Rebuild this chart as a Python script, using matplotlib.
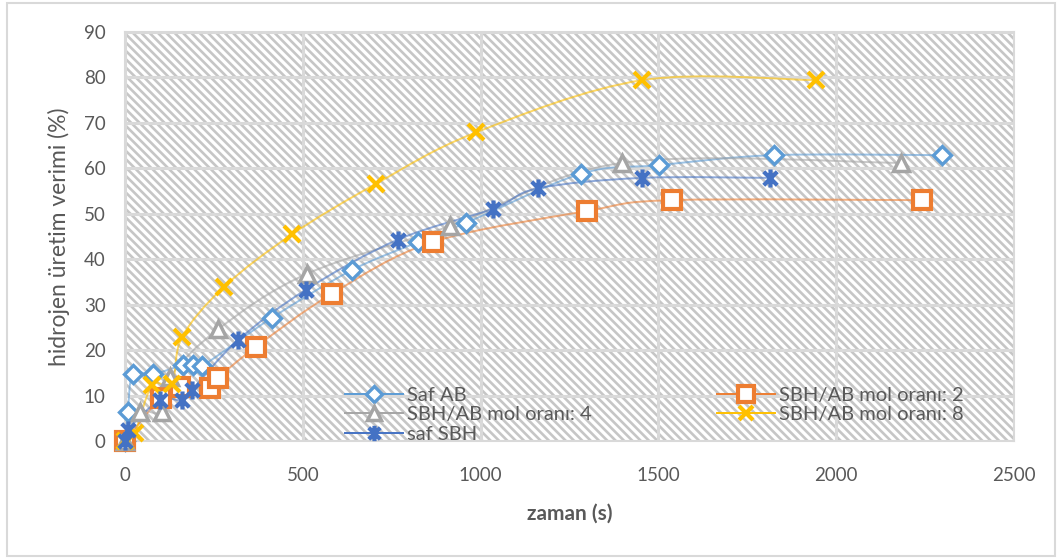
import numpy as np
import matplotlib
matplotlib.use("Agg")
import matplotlib.pyplot as plt
from matplotlib.path import Path
from matplotlib.patches import PathPatch, Rectangle
from matplotlib.lines import Line2D

plt.rcParams['font.family'] = ['Lato', 'DejaVu Sans']
plt.rcParams['hatch.linewidth'] = 1.9
plt.rcParams['hatch.color'] = '#C6C6C6'

# data (time in s, yield in %)
saf_ab_t = [0, 8, 22, 79, 163, 191, 217, 413, 638, 825, 959, 1282, 1502, 1825, 2297]
saf_ab_y = [0, 6.4, 14.7, 14.7, 16.7, 16.7, 16.5, 27.1, 37.6, 43.8, 48.0, 58.8, 60.7, 62.9, 62.9]

sbh2_t = [0, 100, 155, 240, 262, 368, 582, 866, 1299, 1538, 2241]
sbh2_y = [0, 9.5, 11.9, 11.7, 13.9, 20.7, 32.4, 43.8, 50.6, 53.0, 53.0]

sbh4_t = [0, 42, 104, 127, 262, 512, 914, 1398, 2182]
sbh4_y = [0, 6.4, 6.4, 14.1, 24.6, 36.8, 47.3, 61.2, 61.2]

sbh8_t = [0, 28, 76, 132, 160, 278, 470, 706, 987, 1454, 1943]
sbh8_y = [0, 1.8, 12.3, 12.5, 22.8, 33.9, 45.5, 56.6, 67.9, 79.4, 79.4]

saf_sbh_t = [0, 8, 98, 160, 188, 318, 509, 767, 1035, 1161, 1454, 1814]
saf_sbh_y = [0, 2.5, 9.0, 9.0, 11.2, 22.2, 33.3, 44.3, 51.1, 55.6, 57.9, 57.9]

labels = ['Saf AB', 'SBH/AB mol oranı: 2', 'SBH/AB mol oranı: 4',
          'SBH/AB mol oranı: 8', 'saf SBH']
colors = ['#5B9BD5', '#ED7D31', '#A5A5A5', '#FFC000', '#4472C4']

# excel style "star" marker: X plus a vertical bar
star = Path([(0, -1), (0, 1), (-0.75, -0.75), (0.75, 0.75), (-0.75, 0.75), (0.75, -0.75)],
            [Path.MOVETO, Path.LINETO] * 3)


def smooth_path(x, y):
    # catmull-rom -> cubic bezier, like excel's smoothed line
    p = np.column_stack([x, y]).astype(float)
    verts = [p[0]]
    codes = [Path.MOVETO]
    n = len(p)
    for i in range(n - 1):
        p0 = p[i - 1] if i > 0 else p[i]
        p3 = p[i + 2] if i + 2 < n else p[i + 1]
        c1 = p[i] + (p[i + 1] - p0) / 6
        c2 = p[i + 1] - (p3 - p[i]) / 6
        verts += [c1, c2, p[i + 1]]
        codes += [Path.CURVE4] * 3
    return Path(verts, codes)


fig = plt.figure(figsize=(10.6, 5.58), dpi=100)
fig.patches.append(Rectangle((7 / 1060, 2 / 558), 1048 / 1060, 553 / 558,
                             transform=fig.transFigure, facecolor='white',
                             edgecolor='#D9D9D9', lw=1.5, zorder=-5))
ax = fig.add_axes([125 / 1060, (558 - 441) / 558, 889 / 1060, 409 / 558])
ax.set_facecolor('none')
ax.add_patch(Rectangle((0, 0), 1, 1, transform=ax.transAxes, facecolor='white',
                       edgecolor='#C6C6C6', hatch='\\\\\\\\', lw=0, zorder=0))

ax.set_xlim(0, 2500)
ax.set_ylim(0, 90)
ax.set_xticks(range(0, 2501, 500))
ax.set_yticks(range(0, 91, 10))
ax.grid(True, color='#D9D9D9', lw=2.2, zorder=1)
ax.set_axisbelow(False)
for s in ax.spines.values():
    s.set_color('#D9D9D9')
    s.set_linewidth(1.5)
ax.tick_params(length=0, labelsize=13.5, labelcolor='#595959')
ax.tick_params(axis='x', pad=19)
ax.tick_params(axis='y', pad=14)

series = [
    (saf_ab_t, saf_ab_y, dict(marker='D', ms=9, mew=2.4)),
    (sbh2_t, sbh2_y, dict(marker='s', ms=13, mew=3)),
    (sbh4_t, sbh4_y, dict(marker='^', ms=12, mew=2.5)),
    (sbh8_t, sbh8_y, dict(marker='x', ms=12, mew=3)),
    (saf_sbh_t, saf_sbh_y, dict(marker=star, ms=13, mew=3)),
]

handles = []
for k, (t, y, mk) in enumerate(series):
    c = colors[k]
    ax.add_patch(PathPatch(smooth_path(t, y), facecolor='none', edgecolor=c,
                           lw=1.4, alpha=0.6, zorder=3 + k))
    ax.plot(t, y, ls='none', color=c, mfc='white', mec=c, clip_on=False,
            zorder=10 + k, **mk)
    handles.append(Line2D([], [], color=c, lw=1.4, alpha=1, mfc='white',
                          mec=c, **{**mk, 'ms': mk['ms'] * 0.85}))

order = [0, 2, 4, 1, 3]
leg = ax.legend([handles[i] for i in order], [labels[i] for i in order],
                ncol=2, loc='upper left', bbox_to_anchor=(0.238, 0.152),
                frameon=False, fontsize=14.5, labelcolor='#595959',
                handlelength=2.9, handletextpad=0.2, columnspacing=6.2,
                labelspacing=0.12, borderaxespad=0)
leg.set_zorder(30)

ax.set_ylabel('hidrojen üretim verimi (%)', fontsize=16.5, color='#595959', labelpad=10)
ax.set_xlabel('zaman (s)', fontsize=15, fontweight='bold', color='#595959', labelpad=14)

fig.savefig('out.png', dpi=100)
